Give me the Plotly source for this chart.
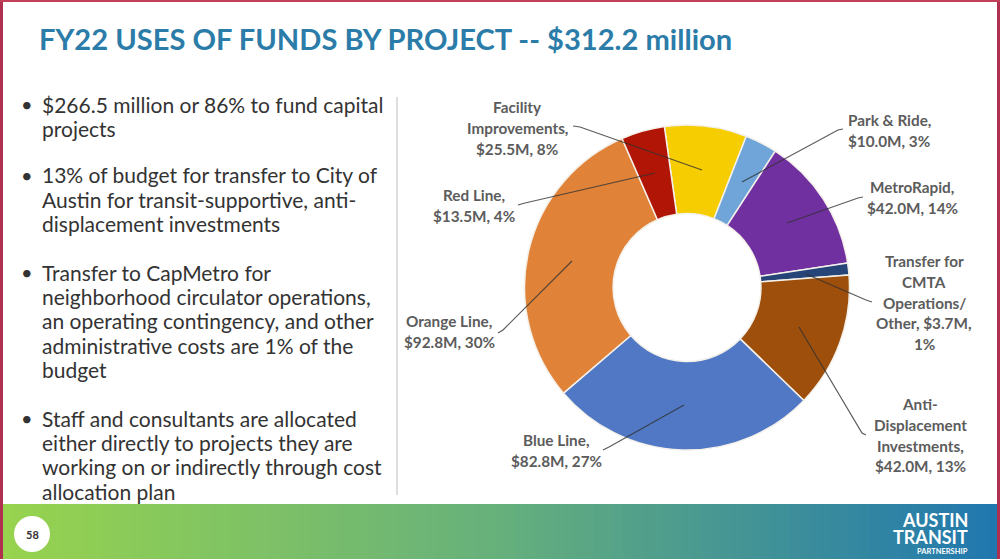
import plotly.graph_objects as go

W, H = 1000, 559

projects = ["Facility Improvements", "Park & Ride", "MetroRapid", "Transfer for CMTA Operations/Other",
            "Anti-Displacement Investments", "Blue Line", "Orange Line", "Red Line"]
amounts = [25.5, 10.0, 42.0, 3.7, 42.0, 82.8, 92.8, 13.5]
slice_colors = ["#F5CD00", "#6FA5D8", "#7030A0", "#264478", "#9E4F0C", "#5078C4", "#E08339", "#B01505"]

label_lines = [
    ["Facility", "Improvements,", "$25.5M, 8%"],
    ["Park & Ride,", "$10.0M, 3%"],
    ["MetroRapid,", "$42.0M, 14%"],
    ["Transfer for", "CMTA", "Operations/", "Other, $3.7M,", "1%"],
    ["Anti-", "Displacement", "Investments,", "$42.0M, 13%"],
    ["Blue Line,", "$82.8M, 27%"],
    ["Orange Line,", "$92.8M, 30%"],
    ["Red Line,", "$13.5M, 4%"],
]
# centre x and first line y of each label
label_anchors = [(517, 107), (889, 120), (912, 187), (924, 261), (920, 404), (556, 440), (449, 321), (474, 195)]
label_step = 20.8

# leader lines, label end -> slice end
leaders = [
    [(573, 126), (580, 127), (702, 170)],
    [(843, 129), (838, 130), (742, 182)],
    [(863, 197), (858, 198), (787, 223)],
    [(872, 302), (866, 300), (806, 274)],
    [(866, 435), (862, 433), (799, 327)],
    [(603, 450), (609, 447), (684, 405)],
    [(498, 333), (503, 330), (572, 261)],
    [(518, 205), (525, 203), (655, 173)],
]

title = "FY22 USES OF FUNDS BY PROJECT -- $312.2 million"
bullets = [
    ["$266.5 million or 86% to fund capital", "projects"],
    ["13% of budget for transfer to City of", "Austin for transit-supportive, anti-", "displacement investments"],
    ["Transfer to CapMetro for", "neighborhood circulator operations,", "an operating contingency, and other", "administrative costs are 1% of the", "budget"],
    ["Staff and consultants are allocated", "either directly to projects they are", "working on or indirectly through cost", "allocation plan"],
]
bullet_tops = [104, 175, 272, 418]
line_step = 24.4

footer_scale = [[0, "#97D34E"], [0.5, "#66B07C"], [1, "#2178AE"]]


def px(x):
    return x / W


def py(y):
    return 1 - y / H


def note(x, y, text, size, color, anchor="left", bold=False, family="Lato"):
    if bold:
        text = f"<b>{text}</b>"
    return dict(x=px(x), y=py(y), xref="paper", yref="paper", text=text, showarrow=False,
                xanchor=anchor, yanchor="middle", align=anchor if anchor != "middle" else "center",
                borderpad=0, font=dict(family=family, size=size, color=color))


fig = go.Figure()

fig.add_trace(go.Pie(
    labels=projects, values=amounts, sort=False, direction="clockwise", rotation=-8, hole=0.455,
    marker=dict(colors=slice_colors, line=dict(color="#F4F0EA", width=1.5)),
    textinfo="none", hoverinfo="label+value", showlegend=False,
    domain=dict(x=[px(524), px(850)], y=[py(450), py(125)]),
))

# footer band
fig.add_trace(go.Heatmap(
    z=[[i / 100 for i in range(101)]], colorscale=footer_scale, showscale=False, hoverinfo="skip",
    xaxis="x", yaxis="y",
))

annotations = [note(38, 38, f"<b>{title}</b>", 29.1, "#2B7CA8")]

for lines, top in zip(bullets, bullet_tops):
    annotations.append(note(20, top, "•", 20, "#333333"))
    for i, line in enumerate(lines):
        annotations.append(note(41, top + i * line_step, line, 21, "#333333"))

for lines, (cx, top) in zip(label_lines, label_anchors):
    for i, line in enumerate(lines):
        annotations.append(note(cx, top + i * label_step, line, 15.3, "#5C5C5C", anchor="center", bold=True))

annotations.append(note(32, 534, "58", 11, "#333333", anchor="center", bold=True))
annotations.append(note(969, 520, "AUSTIN", 18, "white", anchor="right", bold=True))
annotations.append(note(969, 537, "TRANSIT", 18, "white", anchor="right", bold=True))
annotations.append(note(969, 551, "PARTNERSHIP", 7.5, "white", anchor="right", bold=True))

shapes = [
    dict(type="line", xref="paper", yref="paper", x0=px(397), x1=px(397), y0=py(97), y1=py(495),
         line=dict(color="#BDBDBD", width=1)),
    dict(type="circle", xref="paper", yref="paper", x0=px(14), x1=px(50), y0=py(552), y1=py(516),
         fillcolor="white", line=dict(width=0), layer="above"),
    dict(type="rect", xref="paper", yref="paper", x0=0, x1=px(3), y0=0, y1=1, fillcolor="#B0304F", line=dict(width=0)),
    dict(type="rect", xref="paper", yref="paper", x0=px(997), x1=1, y0=0, y1=1, fillcolor="#B0304F", line=dict(width=0)),
    dict(type="rect", xref="paper", yref="paper", x0=0, x1=1, y0=py(2), y1=1, fillcolor="#C0405A", line=dict(width=0)),
]
for pts in leaders:
    path = "M " + " L ".join(f"{px(x)} {py(y)}" for x, y in pts)
    shapes.append(dict(type="path", xref="paper", yref="paper", path=path,
                       line=dict(color="rgba(50,50,50,0.8)", width=1.2), layer="above"))

fig.update_layout(
    width=W, height=H, margin=dict(l=0, r=0, t=0, b=0),
    paper_bgcolor="white", plot_bgcolor="white",
    xaxis=dict(domain=[px(3), px(997)], visible=False, fixedrange=True),
    yaxis=dict(domain=[0, py(504)], visible=False, fixedrange=True),
    annotations=annotations, shapes=shapes,
)

# drop the browser's default body margin so the figure sits at the page corner
fig.write_html("out.html", config=dict(displayModeBar=False), post_script="document.body.style.margin='0';")
